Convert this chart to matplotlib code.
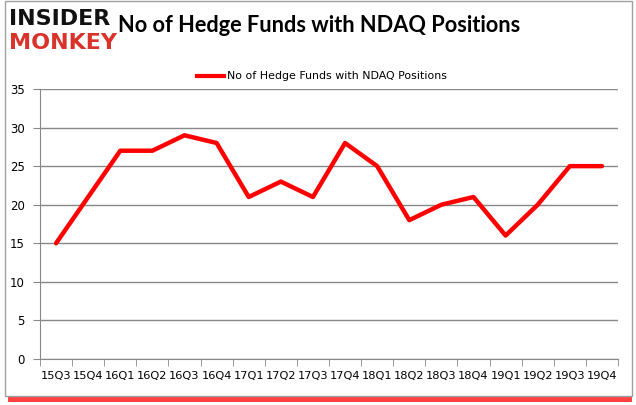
import matplotlib
matplotlib.use("Agg")
import matplotlib.pyplot as plt
from matplotlib.patches import Rectangle

quarters = ["15Q3","15Q4","16Q1","16Q2","16Q3","16Q4","17Q1","17Q2","17Q3","17Q4",
            "18Q1","18Q2","18Q3","18Q4","19Q1","19Q2","19Q3","19Q4"]
funds = [15, 21, 27, 27, 29, 28, 21, 23, 21, 28, 25, 18, 20, 21, 16, 20, 25, 25]
series_name = "No of Hedge Funds with NDAQ Positions"

W, H = 636, 405
fig = plt.figure(figsize=(W/100, H/100), dpi=100)
fig.patch.set_facecolor("white")

# frame with red shadow
fig.patches.append(Rectangle((8/W, 3/H), (W-12)/W, 6/H, transform=fig.transFigure,
                             facecolor="#ff2020", edgecolor="none", alpha=0.85, zorder=0))
fig.patches.append(Rectangle((5/W, 9/H), (W-9)/W, (H-10)/H, transform=fig.transFigure,
                             facecolor="white", edgecolor="#a0a0a0", lw=1, zorder=1))

ax = fig.add_axes([40/W, 1-359/H, 578/W, 270/H])
ax.set_zorder(2)
x = list(range(len(quarters)))
ax.plot(x, funds, color="#ff0000", lw=3.2, solid_capstyle="round", solid_joinstyle="round")
ax.set_xlim(-0.5, len(quarters)-0.5)
ax.set_ylim(0, 35)
ax.set_yticks(range(0, 36, 5))
ax.set_xticks(x)
ax.set_xticklabels(quarters)
ax.set_xticks([i-0.5 for i in range(len(quarters)+1)], minor=True)
ax.tick_params(axis="x", which="major", length=0, pad=9, labelsize=8.2)
ax.tick_params(axis="x", which="minor", length=5, color="#888888", direction="out")
ax.tick_params(axis="y", length=5, color="#888888", labelsize=8.5, pad=6)
ax.grid(axis="y", color="#888888", lw=1)
ax.set_axisbelow(True)
for s in ["top", "right"]:
    ax.spines[s].set_visible(False)
for s in ["left", "bottom"]:
    ax.spines[s].set_color("#888888")

# legend
fig.add_artist(plt.Line2D([197/W, 224/W], [1-76/H, 1-76/H], color="#ff0000", lw=3,
                          transform=fig.transFigure))
fig.text(227/W, 1-76/H, series_name, fontsize=7.9, va="center", ha="left", family="DejaVu Sans")

# title
fig.text(118/W, 1-25/H, series_name, fontsize=15.7, fontweight="bold", va="center",
         ha="left", family="Lato")

# logo
fig.text(9/W, 1-19/H, "INSIDER", fontsize=16, fontweight="heavy", color="#111111",
         va="center", ha="left", family="DejaVu Sans")
fig.text(9/W, 1-43/H, "MONKEY", fontsize=16, fontweight="heavy", color="#d9342b",
         va="center", ha="left", family="DejaVu Sans")

fig.savefig("out.png", dpi=100)
